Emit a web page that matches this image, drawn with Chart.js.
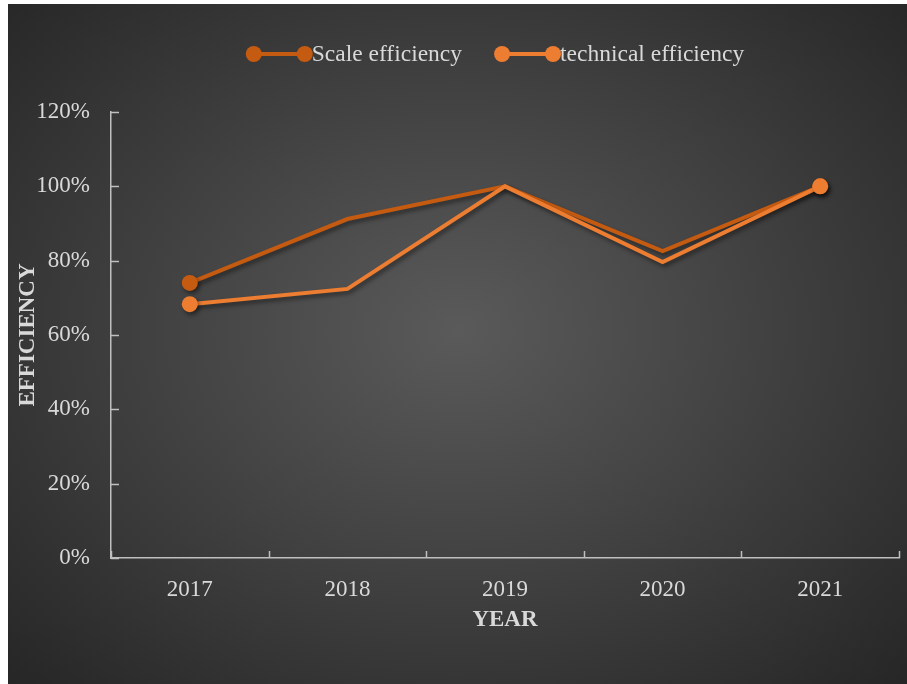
<!DOCTYPE html>
<html>
<head>
<meta charset="utf-8">
<script src="https://cdn.jsdelivr.net/npm/chart.js@4.4.1/dist/chart.umd.min.js"></script>
<style>
    html, body { margin: 0; padding: 0; background: #ffffff; }
    .chart-box {
        position: absolute;
        left: 8px;
        top: 4px;
        width: 899px;
        height: 680px;
        background: radial-gradient(ellipse at 50% 48%, #5a5a5a 0%, #434343 45%, #262626 100%);
    }
</style>
</head>
<body>
<div class="chart-box">
    <canvas id="effChart" width="899" height="680"></canvas>
</div>
<script>
    // data
    const years = ['2017', '2018', '2019', '2020', '2021'];
    const scaleEff = [74, 91.2, 100, 82.6, 100];
    const technicalEff = [68.3, 72.4, 100, 79.6, 100];
    const yTickValues = [0, 20, 40, 60, 80, 100, 120];

    const textColor = '#d9d9d9';
    const axisColor = '#bfbfbf';
    const serif = '"Liberation Serif", "Times New Roman", serif';

    // marker hanya di titik pertama dan terakhir
    function endPointRadius(ctx) {
        const last = ctx.chart.data.labels.length - 1;
        return (ctx.dataIndex === 0 || ctx.dataIndex === last) ? 8 : 0;
    }

    // bayangan di bawah garis
    const lineShadow = {
        id: 'lineShadow',
        beforeDatasetDraw(chart) {
            const c = chart.ctx;
            c.save();
            c.shadowColor = 'rgba(0, 0, 0, 0.45)';
            c.shadowBlur = 4;
            c.shadowOffsetX = 2;
            c.shadowOffsetY = 3;
        },
        afterDatasetDraw(chart) {
            chart.ctx.restore();
        }
    };

    // tick mark ke arah dalam
    const innerTicks = {
        id: 'innerTicks',
        afterDraw(chart) {
            const c = chart.ctx;
            const area = chart.chartArea;
            const x = chart.scales.x;
            const y = chart.scales.y;
            c.save();
            c.strokeStyle = axisColor;
            c.lineWidth = 1.5;
            c.beginPath();
            y.ticks.forEach((t, i) => {
                const py = Math.round(y.getPixelForTick(i)) + 0.5;
                c.moveTo(area.left, py);
                c.lineTo(area.left + 8, py);
            });
            for (let i = 0; i <= years.length; i++) {
                const px = Math.round(x.getPixelForValue(i - 0.5)) + 0.5;
                c.moveTo(px, area.bottom);
                c.lineTo(px, area.bottom - 7);
            }
            c.stroke();
            c.restore();
        }
    };

    // legend manual: garis + dua bulatan
    const customLegend = {
        id: 'customLegend',
        afterDraw(chart) {
            const c = chart.ctx;
            c.save();
            c.font = '23.5px ' + serif;
            c.textBaseline = 'middle';
            const sampleW = 66;
            const gap = 32;
            const items = chart.data.datasets.map(ds => ({
                label: ds.label,
                color: ds.borderColor,
                w: sampleW + c.measureText(ds.label).width
            }));
            const total = items.reduce((s, it) => s + it.w, 0) + gap * (items.length - 1);
            let x0 = 487 - total / 2;
            const cy = 50;
            items.forEach(it => {
                c.strokeStyle = it.color;
                c.fillStyle = it.color;
                c.lineWidth = 4;
                c.beginPath();
                c.moveTo(x0 + 8, cy);
                c.lineTo(x0 + 59, cy);
                c.stroke();
                [x0 + 8, x0 + 59].forEach(cx => {
                    c.beginPath();
                    c.arc(cx, cy, 8, 0, Math.PI * 2);
                    c.fill();
                });
                c.fillStyle = textColor;
                c.fillText(it.label, x0 + sampleW, cy + 1);
                x0 += it.w + gap;
            });
            c.restore();
        }
    };

    const ctx = document.getElementById('effChart').getContext('2d');
    new Chart(ctx, {
        type: 'line',
        data: {
            labels: years,
            datasets: [{
                label: 'Scale efficiency',
                data: scaleEff,
                borderColor: '#c55a11',
                backgroundColor: '#c55a11',
                borderWidth: 4,
                tension: 0,
                pointRadius: endPointRadius,
                pointHoverRadius: endPointRadius,
                pointBorderWidth: 0,
                pointBackgroundColor: '#c55a11',
                order: 1
            }, {
                label: 'technical efficiency',
                data: technicalEff,
                borderColor: '#ed7d31',
                backgroundColor: '#ed7d31',
                borderWidth: 4,
                tension: 0,
                pointRadius: endPointRadius,
                pointHoverRadius: endPointRadius,
                pointBorderWidth: 0,
                pointBackgroundColor: '#ed7d31',
                order: 0
            }]
        },
        options: {
            responsive: false,
            animation: false,
            layout: {
                padding: { top: 108, left: 2, right: 7, bottom: 46 }
            },
            plugins: {
                legend: { display: false },
                tooltip: { enabled: false }
            },
            scales: {
                x: {
                    offset: true,
                    grid: { display: false, drawTicks: false, offset: true },
                    border: { display: true, color: axisColor, width: 1.5 },
                    ticks: {
                        color: textColor,
                        padding: 18,
                        font: { family: serif, size: 23 }
                    },
                    title: {
                        display: true,
                        text: 'YEAR',
                        color: textColor,
                        font: { family: serif, size: 23, weight: 'bold' }
                    },
                    afterFit(scale) { scale.height = 80; }
                },
                y: {
                    min: 0,
                    max: 120,
                    grid: { display: false, drawTicks: false },
                    border: { display: true, color: axisColor, width: 1.5 },
                    afterBuildTicks(scale) {
                        scale.ticks = yTickValues.map(v => ({ value: v }));
                    },
                    ticks: {
                        color: textColor,
                        padding: 21,
                        font: { family: serif, size: 23 },
                        callback: function(value) {
                            return value + '%';
                        }
                    },
                    title: {
                        display: true,
                        text: 'EFFICIENCY',
                        color: textColor,
                        font: { family: serif, size: 23, weight: 'bold' }
                    },
                    afterFit(scale) { scale.width = 101; }
                }
            }
        },
        plugins: [lineShadow, innerTicks, customLegend]
    });
</script>
</body>
</html>
